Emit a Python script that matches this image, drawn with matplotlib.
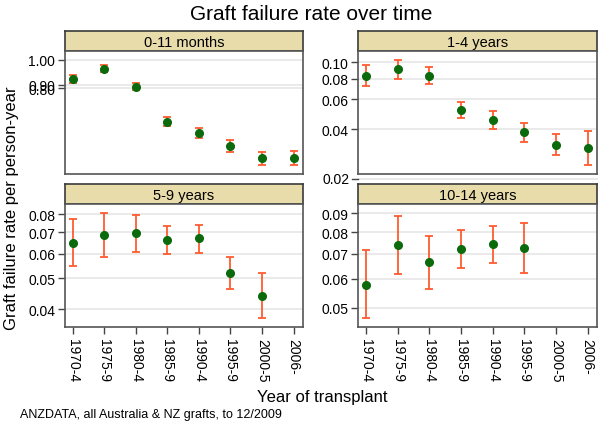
import numpy as np
import matplotlib.pyplot as plt

plt.rcParams['font.family'] = ['Liberation Sans', 'DejaVu Sans']

periods = ['1970-4', '1975-9', '1980-4', '1985-9', '1990-4', '1995-9', '2000-5', '2006-']

# 0-11 months
rate_0_11 = [0.924, 0.964, 0.895, 0.773, 0.738, 0.699, 0.664, 0.665]
lo_0_11 = [0.909, 0.950, 0.881, 0.759, 0.722, 0.681, 0.646, 0.646]
hi_0_11 = [0.941, 0.979, 0.910, 0.788, 0.753, 0.716, 0.682, 0.684]

# 1-4 years
rate_1_4 = [0.0832, 0.0912, 0.0832, 0.0519, 0.0455, 0.0382, 0.0322, 0.0307]
lo_1_4 = [0.0719, 0.0795, 0.0739, 0.0463, 0.0402, 0.0333, 0.0280, 0.0244]
hi_1_4 = [0.0960, 0.1036, 0.0937, 0.0582, 0.0514, 0.0436, 0.0372, 0.0389]

# 5-9 years (no estimate for 2006-)
rate_5_9 = [0.0647, 0.0687, 0.0695, 0.0663, 0.0670, 0.0521, 0.0441]
lo_5_9 = [0.0547, 0.0585, 0.0606, 0.0596, 0.0602, 0.0464, 0.0374]
hi_5_9 = [0.0770, 0.0804, 0.0796, 0.0734, 0.0740, 0.0586, 0.0520]

# 10-14 years (no estimate for 2000-5, 2006-)
rate_10_14 = [0.0578, 0.0739, 0.0664, 0.0721, 0.0743, 0.0727]
lo_10_14 = [0.0469, 0.0617, 0.0563, 0.0640, 0.0662, 0.0622]
hi_10_14 = [0.0714, 0.0887, 0.0780, 0.0811, 0.0832, 0.0849]

W, H = 600, 427
fig = plt.figure(figsize=(6, 4.27), dpi=100)


def box(x0, y0, x1, y1):
    return [x0 / W, 1 - y1 / H, (x1 - x0) / W, (y1 - y0) / H]


def panel(x0, x1, y0, y1, title, rate, lo, hi, ylim, ticks, labels, bottom):
    hd = fig.add_axes(box(x0, y0 - 20, x1, y0))
    hd.set_facecolor('#e9dcab')
    hd.set_xticks([])
    hd.set_yticks([])
    for s in hd.spines.values():
        s.set_color('#3a3a3a')
        s.set_linewidth(1.2)
    hd.text(0.5, 0.45, title, ha='center', va='center', fontsize=10.5, transform=hd.transAxes)

    ax = fig.add_axes(box(x0, y0, x1, y1))
    ax.set_yscale('log')
    x = np.arange(len(rate))
    rate = np.array(rate)
    err = [rate - np.array(lo), np.array(hi) - rate]
    ax.errorbar(x, rate, yerr=err, fmt='none', ecolor='#ff5c2e', elinewidth=1.3,
                capsize=3, capthick=1.3, zorder=2)
    ax.plot(x, rate, 'o', color='#0b6a0b', markersize=5.5, zorder=3)
    ax.set_xlim(-0.25, 7.3)
    ax.set_ylim(*ylim)
    ax.yaxis.set_minor_locator(plt.NullLocator())
    ax.set_yticks(ticks)
    ax.set_yticklabels(labels)
    for t in ticks:
        ax.axhline(t, color='#e8e8e8', lw=1.3, zorder=0)
    ax.tick_params(axis='y', length=5, width=1, color='#444444', labelsize=10, pad=2)
    if bottom:
        ax.set_xticks(x if len(x) == 8 else np.arange(8))
        ax.set_xticks(np.arange(8))
        ax.set_xticklabels(periods, rotation=-90, fontsize=10)
        ax.tick_params(axis='x', length=5, width=1, color='#444444', pad=3)
    else:
        ax.set_xticks([])
    for s in ax.spines.values():
        s.set_color('#555555')
        s.set_linewidth(1.2)
    return ax


panel(65, 303, 52, 175, '0-11 months', rate_0_11, lo_0_11, hi_0_11,
      (0.622, 1.038), [1.0, 0.901, 0.889], ['1.00', '0.90', '0.80'], False)
ax_tr = panel(358, 597, 52, 175, '1-4 years', rate_1_4, lo_1_4, hi_1_4,
              (0.02156, 0.1168), [0.04, 0.06, 0.08, 0.10], ['0.04', '0.06', '0.08', '0.10'], False)
# the 0.02 label sits below the plot region
ax_tr.axhline(0.02, color='#e8e8e8', lw=1.3, clip_on=False)
ax_tr.plot([-0.45, -0.25], [0.02, 0.02], color='#444444', lw=1, clip_on=False)
ax_tr.text(-0.52, 0.02, '0.02', ha='right', va='center', fontsize=10, clip_on=False)

panel(65, 303, 205, 328, '5-9 years', rate_5_9, lo_5_9, hi_5_9,
      (0.0351, 0.0861), [0.04, 0.05, 0.06, 0.07, 0.08], ['0.04', '0.05', '0.06', '0.07', '0.08'], True)
panel(358, 597, 205, 328, '10-14 years', rate_10_14, lo_10_14, hi_10_14,
      (0.0444, 0.0953), [0.05, 0.06, 0.07, 0.08, 0.09], ['0.05', '0.06', '0.07', '0.08', '0.09'], True)

fig.text(311 / W, 1 - 14 / H, 'Graft failure rate over time', ha='center', va='center', fontsize=15)
fig.text(12 / W, 1 - 208 / H, 'Graft failure rate per person-year', ha='center', va='center',
         rotation=90, fontsize=12)
fig.text(322 / W, 1 - 398 / H, 'Year of transplant', ha='center', va='center', fontsize=12)
fig.text(20 / W, 1 - 415 / H, 'ANZDATA, all Australia & NZ grafts, to 12/2009', ha='left',
         va='center', fontsize=9)

fig.savefig('out.png', dpi=100)
